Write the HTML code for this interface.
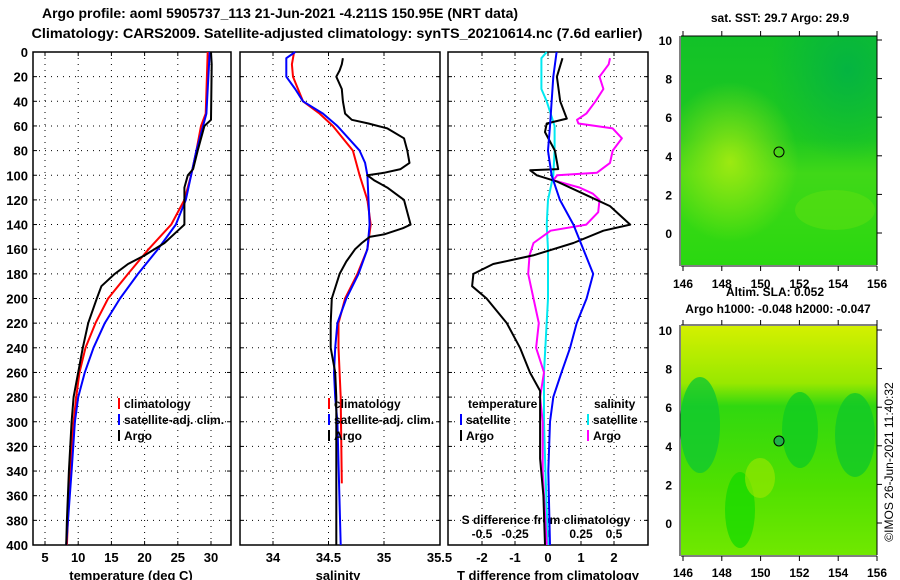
<!DOCTYPE html>
<html><head><meta charset="utf-8"><style>
html,body{margin:0;padding:0;background:#fff;}
svg{display:block;font-family:"Liberation Sans",sans-serif;font-weight:bold;}
</style></head><body>
<svg id="fig" width="900" height="580" viewBox="0 0 900 580" xmlns="http://www.w3.org/2000/svg">
<defs>
<linearGradient id="sstv" x1="0" y1="0" x2="0" y2="1">
<stop offset="0" stop-color="#12c228"/><stop offset="0.45" stop-color="#1ec820"/><stop offset="0.6" stop-color="#40d818"/><stop offset="1" stop-color="#2ad810"/></linearGradient>
<radialGradient id="sstyel" cx="0.25" cy="0.55" r="0.35"><stop offset="0" stop-color="#a8ec10" stop-opacity="0.9"/><stop offset="1" stop-color="#a8ec10" stop-opacity="0"/></radialGradient>
<radialGradient id="sstteal" cx="0.85" cy="0.15" r="0.4"><stop offset="0" stop-color="#00b048" stop-opacity="0.8"/><stop offset="1" stop-color="#00b048" stop-opacity="0"/></radialGradient>
<linearGradient id="slav" x1="0" y1="0" x2="0" y2="1">
<stop offset="0" stop-color="#d4f000"/><stop offset="0.25" stop-color="#98e800"/><stop offset="0.35" stop-color="#30d810"/><stop offset="0.7" stop-color="#50e000"/><stop offset="1" stop-color="#70e800"/></linearGradient>
</defs>
<rect width="900" height="580" fill="#fff"/>
<text x="280" y="18" font-size="14" text-anchor="middle" textLength="476" lengthAdjust="spacingAndGlyphs">Argo profile: aoml 5905737_113 21-Jun-2021 -4.211S 150.95E (NRT data)</text>
<text x="337" y="38" font-size="14" text-anchor="middle" textLength="611" lengthAdjust="spacingAndGlyphs">Climatology: CARS2009. Satellite-adjusted climatology: synTS_20210614.nc (7.6d earlier)</text>
<g id="panels"></g>
<g id="maps">
 <g>
  <rect x="681" y="36" width="196" height="229" fill="url(#sstv)"/>
  <rect x="681" y="36" width="196" height="229" fill="url(#sstyel)"/>
  <rect x="681" y="36" width="196" height="229" fill="url(#sstteal)"/>
  <ellipse cx="835" cy="210" rx="40" ry="20" fill="#60e010" opacity="0.5"/>
  <circle cx="779" cy="152" r="5" fill="none" stroke="#000" stroke-width="1"/>
 </g>
 <g>
  <rect x="681" y="326" width="196" height="229" fill="url(#slav)"/>
  <ellipse cx="700" cy="425" rx="20" ry="48" fill="#10c830" opacity="0.8"/>
  <ellipse cx="800" cy="430" rx="18" ry="38" fill="#10cc20" opacity="0.8"/>
  <ellipse cx="855" cy="435" rx="20" ry="42" fill="#10c828" opacity="0.8"/>
  <ellipse cx="740" cy="510" rx="15" ry="38" fill="#10d800" opacity="0.7"/>
  <ellipse cx="760" cy="478" rx="15" ry="20" fill="#a0e800" opacity="0.6"/>
  <circle cx="779" cy="441" r="5" fill="#20b048" stroke="#000" stroke-width="1"/>
 </g>
 <line x1="681" y1="36" x2="877" y2="36" stroke="#000"/><line x1="877" y1="36" x2="877" y2="265" stroke="#000"/>
 <line x1="681" y1="266" x2="877" y2="266" stroke="#000"/><line x1="680" y1="36" x2="680" y2="266" stroke="#000"/>
 <line x1="681" y1="325" x2="877" y2="325" stroke="#000"/><line x1="877" y1="325" x2="877" y2="555" stroke="#000"/>
 <line x1="681" y1="556" x2="877" y2="556" stroke="#000"/><line x1="680" y1="325" x2="680" y2="556" stroke="#000"/>
 <text x="780" y="22" font-size="12" text-anchor="middle">sat. SST: 29.7 Argo: 29.9</text>
 <text x="775" y="296" font-size="12" text-anchor="middle">Altim. SLA: 0.052</text>
 <text x="778" y="313" font-size="12" text-anchor="middle">Argo h1000: -0.048 h2000: -0.047</text>
 <text transform="translate(893,462) rotate(-90)" font-size="12" font-weight="normal" text-anchor="middle">©IMOS 26-Jun-2021 11:40:32</text>
 <g id="mapticks"></g>
</g>
</svg>
<script>
// ---- data (depth in dbar) ----
var tempClimDepth = [0,50,60,80,100,120,140,160,180,200,220,240,260,280,300,320,360,400];
var tempClim      = [29.5,29.2,28.5,27.8,27,26,24,20.6,17.5,14.5,12.6,11.1,10.2,9.7,9.3,9.0,8.6,8.3];
var tempSatDepth  = [0,50,80,100,120,140,160,180,200,220,240,260,280,300,340,400];
var tempSat       = [29.8,29.3,27.8,27,26.2,24.7,22,19,16.3,14,12.3,11,10,9.5,9,8.2];
var tempArgoDepth = [0,10,55,60,80,95,100,110,140,145,155,165,172,180,190,200,220,240,260,280,300,340,380,400];
var tempArgo      = [30,30.1,30,29,28,27.3,26.5,26,26,25,23,20,17.5,15.5,13.5,12.8,11.5,10.7,10,9.3,9,8.6,8.3,8.2];

var salClimDepth = [0,10,20,40,50,60,80,100,120,140,160,180,200,220,240,280,350];
var salClim      = [34.19,34.17,34.18,34.27,34.42,34.54,34.72,34.78,34.85,34.88,34.85,34.76,34.65,34.59,34.59,34.61,34.62];
var salSatDepth  = [0,5,20,30,40,50,60,80,90,100,120,140,160,180,200,220,240,260,280,300,400];
var salSat       = [34.2,34.12,34.12,34.2,34.27,34.45,34.58,34.78,34.83,34.85,34.86,34.87,34.85,34.77,34.66,34.58,34.56,34.55,34.56,34.58,34.61];
var salArgoDepth = [5,10,15,20,30,40,50,55,58,62,70,80,90,95,98,100,104,110,120,130,140,143,148,150,155,160,170,180,200,220,240,260,280,400];
var salArgo      = [34.63,34.62,34.6,34.57,34.62,34.63,34.65,34.71,34.86,35.03,35.18,35.21,35.23,35.15,35.0,34.85,34.91,35.03,35.18,35.21,35.24,35.17,35.0,34.87,34.8,34.74,34.66,34.6,34.53,34.52,34.52,34.56,34.57,34.57];

var dTArgoDepth = [5,20,40,54,58,65,80,95,96,100,105,115,125,140,145,155,165,172,180,190,200,220,240,260,275,300,330,360,400];
var dTArgo      = [0.44,0.27,0.37,0.57,-0.04,-0.09,0.21,0.31,-0.54,-0.34,0.26,1.07,1.88,2.49,1.68,0.77,-0.45,-1.66,-2.26,-2.3,-1.86,-1.25,-0.85,-0.55,-0.24,-0.24,-0.24,-0.14,-0.09];
var dTSatDepth  = [0,20,60,80,100,120,140,160,180,200,220,240,260,280,300,340,400];
var dTSat       = [0.26,0.16,0.06,0.0,0.11,0.36,0.77,1.07,1.37,1.17,0.87,0.67,0.41,0.16,0.06,0.01,0.06];
var dSSatDepth  = [0,5,30,40,60,80,100,120,140,160,200,260,300,340,400];
var dSSat       = [-0.01,-0.05,-0.05,-0.01,0.05,0.05,0.04,0.0,-0.01,0.0,0.0,-0.03,-0.03,-0.02,0.0];
var dSArgoDepth = [5,10,20,30,40,50,55,58,62,70,80,90,98,100,104,110,115,120,130,140,145,155,165,180,200,220,240,260,280,300,340,400];
var dSArgo      = [0.47,0.46,0.39,0.42,0.36,0.29,0.22,0.23,0.49,0.56,0.49,0.47,0.37,0.07,0.04,0.24,0.34,0.39,0.38,0.29,0.02,-0.11,-0.14,-0.15,-0.11,-0.07,-0.09,-0.03,-0.06,-0.04,-0.04,-0.01];

var depthTicks = [0,20,40,60,80,100,120,140,160,180,200,220,240,260,280,300,320,340,360,380,400];
var tempTicks = [5,10,15,20,25,30];
var salTicks = [34,34.5,35,35.5];
var salTickLabels = ["34","34.5","35","35.5"];
var dTTicks = [-2,-1,0,1,2];
var dSTicks = [-0.5,-0.25,0,0.25,0.5];
var dSTickLabels = ["-0.5","-0.25","0","0.25","0.5"];
var lonTicks = [146,148,150,152,154,156];
var latTicks = [0,2,4,6,8,10];

// ---- axes ----
var NS='http://www.w3.org/2000/svg';
var top0=52, bot0=545;
function yD(d){return top0+d*(bot0-top0)/400;}
function xT(t){return 45+(t-5)*6.64;}
function xS(s){return 273+(s-34)*111;}
function xdT(t){return 548+t*33;}
function xdS(s){return 548+s*132;}
var G=document.getElementById('panels');
function el(tag,attrs,parent){var e=document.createElementNS(NS,tag);for(var k in attrs)e.setAttribute(k,attrs[k]);(parent||G).appendChild(e);return e;}
function txt(x,y,s,anchor,size,parent){var t=el('text',{x:x,y:y,'font-size':size||12,'text-anchor':anchor||'middle'},parent);t.textContent=s;return t;}
function line(xs,ds,fx,color,name){
  var p='';for(var i=0;i<xs.length;i++){p+=(i?'L':'M')+fx(xs[i]).toFixed(1)+','+yD(ds[i]).toFixed(1);}
  var e=el('path',{d:p,fill:'none',stroke:color,'stroke-width':2,'stroke-linejoin':'round'});
  
  
}
function panel(x0,x1,name,vt,fx){
  var g=el('g',{});
  
  
  depthTicks.forEach(function(d){if(d>0&&d<400)el('line',{x1:x0,x2:x1,y1:yD(d),y2:yD(d),stroke:'#000','stroke-dasharray':'1,5'},g);
    el('line',{x1:x0,x2:x0+4,y1:yD(d),y2:yD(d),stroke:'#000'},g);el('line',{x1:x1-4,x2:x1,y1:yD(d),y2:yD(d),stroke:'#000'},g);});
  vt.forEach(function(v){var x=fx(v);if(x>x0+1&&x<x1-1){el('line',{x1:x,x2:x,y1:top0,y2:bot0,stroke:'#000','stroke-dasharray':'1,5'},g);
    el('line',{x1:x,x2:x,y1:bot0-4,y2:bot0,stroke:'#000'},g);el('line',{x1:x,x2:x,y1:top0,y2:top0+4,stroke:'#000'},g);}});
  el('rect',{x:x0,y:top0,width:x1-x0,height:bot0-top0,fill:'none',stroke:'#000','stroke-width':1.5},g);
}
panel(33,231,'temperature-panel',tempTicks,xT);
panel(240,440,'salinity-panel',salTicks,xS);
panel(448,648,'difference-panel',dTTicks,xdT);
depthTicks.forEach(function(d){var t=txt(28,yD(d)+5,String(d),'end',13);});
tempTicks.forEach(function(v){txt(xT(v),562,String(v),'middle',13);});
salTicks.forEach(function(v,i){txt(xS(v),562,salTickLabels[i],'middle',13);});
dTTicks.forEach(function(v){txt(xdT(v),562,String(v),'middle',13);});
dSTicks.forEach(function(v,i){txt(xdS(v)+(v==0?-1:0),538,dSTickLabels[i],'middle',12);});
txt(131,580,'temperature (deg C)','middle',13);
txt(338,580,'salinity','middle',13);
txt(548,580,'T difference from climatology','middle',13);
txt(546,524,'S difference from climatology','middle',12);

line(tempClim,tempClimDepth,xT,'#ff0000','temp-climatology-line');
line(tempSat,tempSatDepth,xT,'#0000ff','temp-satellite-line');
line(tempArgo,tempArgoDepth,xT,'#000000','temp-argo-line');
line(salClim,salClimDepth,xS,'#ff0000','sal-climatology-line');
line(salSat,salSatDepth,xS,'#0000ff','sal-satellite-line');
line(salArgo,salArgoDepth,xS,'#000000','sal-argo-line');
line(dSSat,dSSatDepth,xdS,'#00e8f0','dS-satellite-line');
line(dSArgo,dSArgoDepth,xdS,'#ff00ff','dS-argo-line');
line(dTArgo,dTArgoDepth,xdT,'#000000','dT-argo-line');
line(dTSat,dTSatDepth,xdT,'#0000ff','dT-satellite-line');

function legend(x,y,label,color,name){
  var g=el('g',{});
  
  
  el('rect',{x:x,y:y-10,width:2,height:11,fill:color},g);
  txt(x+6,y,label,'start',12,g);
}
legend(118,408,'climatology','#ff0000','legend-climatology');
legend(118,424,'satellite-adj. clim.','#0000ff','legend-satellite');
legend(118,440,'Argo','#000','legend-argo');
legend(328,408,'climatology','#ff0000','legend-sal-climatology');
legend(328,424,'satellite-adj. clim.','#0000ff','legend-sal-satellite');
legend(328,440,'Argo','#000','legend-sal-argo');
txt(468,408,'temperature','start',12);
txt(594,408,'salinity','start',12);
legend(460,424,'satellite','#0000ff','legend-dT-satellite');
legend(460,440,'Argo','#000','legend-dT-argo');
legend(587,424,'satellite','#00e8f0','legend-dS-satellite');
legend(587,440,'Argo','#ff00ff','legend-dS-argo');

// map ticks
var MT=document.getElementById('mapticks');
function lonX(l){return 683+(l-146)*19.4;}
function latY1(l){return 233-l*19.3;}
function latY2(l){return 523-l*19.3;}
lonTicks.forEach(function(l){var x=lonX(l);
  el('line',{x1:x,x2:x,y1:266,y2:271,stroke:'#000'},MT);el('line',{x1:x,x2:x,y1:31,y2:36,stroke:'#000'},MT);
  el('line',{x1:x,x2:x,y1:556,y2:561,stroke:'#000'},MT);el('line',{x1:x,x2:x,y1:320,y2:325,stroke:'#000'},MT);
  txt(x,288,String(l),'middle',12,MT);txt(x,577,String(l),'middle',12,MT);});
latTicks.forEach(function(l){
  el('line',{x1:877,x2:882,y1:latY1(l),y2:latY1(l),stroke:'#000'},MT);
  el('line',{x1:877,x2:882,y1:latY2(l),y2:latY2(l),stroke:'#000'},MT);
  txt(672,latY1(l)+5,String(l),'end',12,MT);txt(672,latY2(l)+5,String(l),'end',12,MT);});
</script>
</body></html>
